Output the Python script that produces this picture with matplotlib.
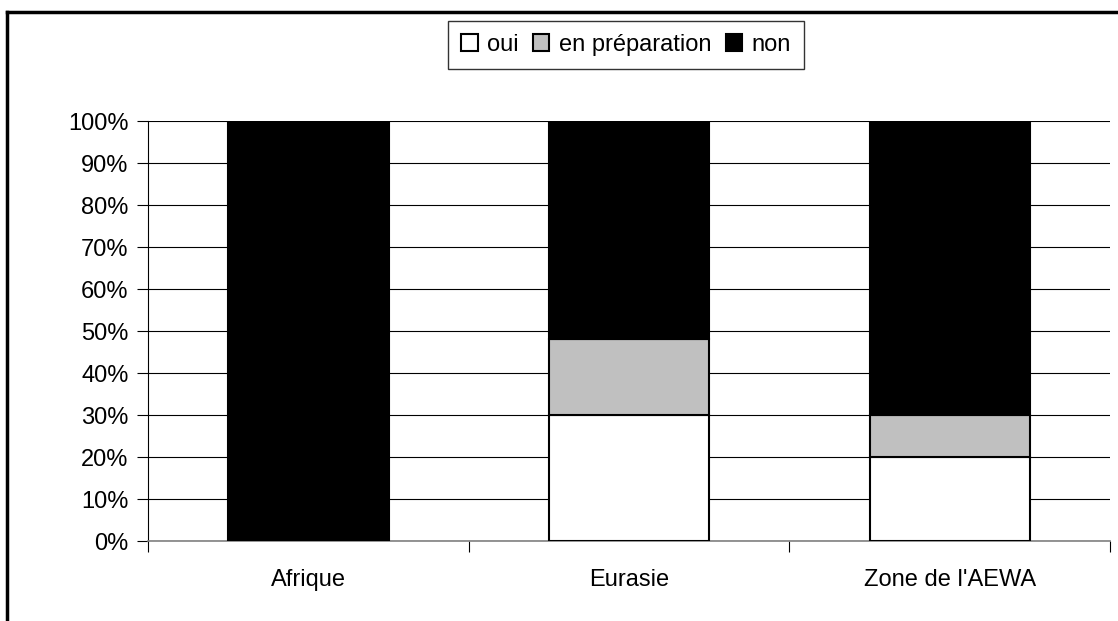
import matplotlib.pyplot as plt
import numpy as np
from matplotlib.lines import Line2D

plt.rcParams['font.family'] = ['Liberation Sans', 'DejaVu Sans']

categories = ['Afrique', 'Eurasie', "Zone de l'AEWA"]
oui = [0, 30, 20]
en_preparation = [0, 18, 10]
non = [100, 52, 70]
series_labels = ['oui', 'en préparation', 'non']
series_colors = ['white', '#c0c0c0', 'black']

fig = plt.figure(figsize=(11.18, 6.21), dpi=100)
ax = fig.add_axes([148/1118, 1-541/621, (1110-148)/1118, (541-121)/621])

x = np.arange(len(categories))
bottom = np.zeros(len(categories))
for vals, lab, col in zip([oui, en_preparation, non], series_labels, series_colors):
    vals = np.array(vals)
    ax.bar(x, vals, width=0.5, bottom=bottom, color=col, edgecolor='black',
           linewidth=1.5, label=lab, zorder=3)
    bottom += vals

ax.set_xlim(-0.5, 2.5)
ax.set_ylim(0, 100)
ax.set_yticks(np.arange(0, 101, 10))
ax.set_yticklabels([f'{v}%' for v in range(0, 101, 10)], fontsize=17)
ax.yaxis.grid(True, color='black', linewidth=0.8, zorder=0)

ax.set_xticks(x)
ax.set_xticklabels(categories, fontsize=17)
ax.tick_params(axis='x', length=0, pad=20)
ax.set_xticks([-0.5, 0.5, 1.5, 2.5], minor=True)
ax.tick_params(axis='x', which='minor', length=8, width=0.8, color='black', direction='out')
ax.tick_params(axis='y', length=8, width=0.8, direction='out', pad=6)

ax.spines['top'].set_visible(False)
ax.spines['right'].set_visible(False)
ax.spines['left'].set_color('black')
ax.spines['left'].set_linewidth(0.8)
ax.spines['bottom'].set_color('#808080')
ax.spines['bottom'].set_linewidth(1.2)

leg = fig.legend(loc='center', bbox_to_anchor=(626/1118, 1-45/621), ncol=3,
                 fontsize=17, frameon=True, fancybox=False, edgecolor='black',
                 handlelength=0.7, handleheight=0.7, handletextpad=0.4,
                 columnspacing=0.6, borderpad=0.55, borderaxespad=0)
leg.get_frame().set_linewidth(1.0)

# outer border (left and top only visible)
fig.add_artist(Line2D([7/1118, 7/1118], [0, 1-12/621], color='black', linewidth=2.5,
                      transform=fig.transFigure))
fig.add_artist(Line2D([7/1118, 1], [1-12/621, 1-12/621], color='black', linewidth=2.5,
                      transform=fig.transFigure))

fig.savefig('out.png', dpi=100)
